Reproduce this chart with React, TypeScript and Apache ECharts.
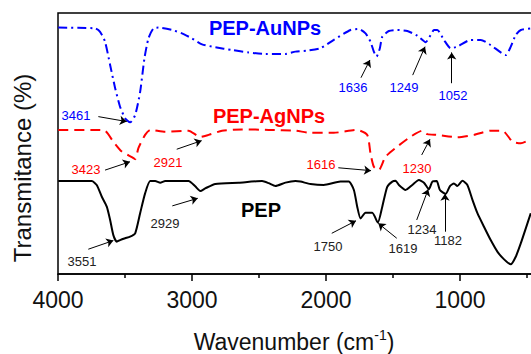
import React, { useEffect, useRef } from "react";
import * as echarts from "echarts";

// Wavenumber (cm-1) and transmittance (arbitrary, offset) readings
const auWn = [3998,3723,3686,3649,3611,3574,3537,3499,3462,3424,3387,3355,3325,3288,3250,3150,3075,3001,2925,2826,2701,2577,2453,2303,2228,2141,2041,1942,1817,1755,1705,1668,1643,1623,1598,1580,1531,1468,1393,1319,1256,1219,1194,1169,1120,1070,1020,920,845,771,658,621,584,546,472];
const auT = [94.4,94.1,92.8,89.0,80.1,71.3,64.1,59.7,58.1,60.9,69.8,82.6,90.3,94.1,94.4,93.5,92.2,90.3,88.0,86.9,85.8,84.9,84.3,84.3,85.2,85.6,86.5,89.7,93.5,93.9,92.2,89.0,85.2,83.3,86.5,90.9,93.1,93.5,93.1,91.3,88.8,91.6,93.5,93.5,89.7,86.5,87.1,89.7,89.7,87.7,83.9,87.1,91.6,93.5,94.1];

const agWn = [3998,3723,3649,3587,3524,3449,3424,3400,3350,3312,3200,3026,2938,2876,2776,2627,2428,2228,2116,1942,1767,1692,1668,1643,1606,1556,1468,1369,1281,1244,1169,1020,895,771,683,608,546,472];
const agT = [55.2,55.2,54.9,50.7,46.9,44.8,44.0,48.2,53.3,55.2,54.5,54.9,52.5,53.3,54.9,55.4,55.2,54.9,54.1,54.1,55.2,53.3,46.2,41.1,39.8,44.9,48.8,52.6,54.9,53.6,53.3,52.4,53.3,54.9,54.9,50.7,50.1,51.6];

const pepWn = [3998,3748,3711,3673,3636,3611,3587,3561,3537,3499,3462,3424,3387,3350,3312,3275,3237,3200,3026,2976,2938,2901,2826,2652,2477,2428,2378,2303,2228,2191,2116,2017,1892,1830,1792,1767,1742,1705,1655,1613,1580,1543,1505,1481,1456,1406,1356,1307,1269,1232,1206,1174,1150,1107,1075,1045,1020,982,945,907,870,821,771,720,671,621,584,546,509,472];
const pepT = [35.6,35.6,34.1,29.6,25.8,20.7,14.9,12.4,13.0,13.7,14.3,15.6,23.3,30.9,35.6,35.6,35.0,35.6,35.6,33.6,31.8,32.8,34.5,35.0,35.6,34.8,33.7,35.0,35.6,35.4,34.5,34.1,35.4,35.4,32.2,25.8,21.3,23.5,23.5,19.7,25.8,33.4,35.4,35.7,34.1,32.2,34.1,36.0,35.0,32.5,35.4,35.6,32.2,30.7,33.7,34.7,33.7,35.7,34.1,28.4,23.3,18.1,13.0,8.5,5.6,3.7,6.6,11.8,17.5,23.3];

const xTicks = [4000, 3000, 2000, 1000];

// Peak annotations: [label, label anchor (wn, T), arrow start (wn, T), arrow tip (wn, T)]
const auPeaks: [string, number[], number[], number[]][] = [
  ["3461", [3866, 60.9], [3699, 60.3], [3487, 58.4]],
  ["1636", [1799, 71.3], [1739, 75.2], [1672, 82.0]],
  ["1249", [1418, 71.3], [1353, 76.2], [1261, 87.1]],
  ["1052", [1052, 68.2], [1062, 73.1], [1062, 84.9]],
];
const agPeaks: [string, number[], number[], number[]][] = [
  ["3423", [3791, 40.2], [3649, 39.8], [3463, 43.0]],
  ["2921", [3179, 42.9], [3114, 47.8], [2928, 51.1]],
  ["1616", [2037, 42.1], [1908, 40.7], [1664, 39.6]],
  ["1230", [1321, 40.6], [1286, 45.6], [1224, 51.6]],
];
const pepPeaks: [string, number[], number[], number[]][] = [
  ["3551", [3821, 4.6], [3774, 9.5], [3587, 12.8]],
  ["2929", [3201, 19.2], [3147, 26.1], [2957, 29.0]],
  ["1750", [1985, 10.7], [1957, 15.6], [1776, 20.4]],
  ["1619", [1425, 9.6], [1472, 13.7], [1610, 19.4]],
  ["1234", [1284, 17.2], [1323, 20.7], [1237, 32.5]],
  ["1182", [1090, 13.0], [1112, 16.2], [1112, 30.7]],
];

const seriesNames = ["PEP-AuNPs", "PEP-AgNPs", "PEP"];
const titlePos = [[2455, 94.3], [2425, 60.5], [2485, 24.7]];

const FONT = 'Arial, "Liberation Sans", sans-serif';

function zip(xs: number[], ys: number[]) {
  return xs.map((x, i) => [x, ys[i]]);
}

function makeSeries(
  name: string,
  xs: number[],
  ys: number[],
  color: string,
  dash: number[] | "solid",
  peaks: [string, number[], number[], number[]][],
  labelColor: string,
  title: number[]
) {
  return {
    name,
    type: "line",
    data: zip(xs, ys),
    showSymbol: false,
    smooth: 0.2,
    lineStyle: { color, width: 2, type: dash },
    markLine: {
      silent: true,
      symbol: ["none", "arrow"],
      symbolSize: 7,
      label: { show: false },
      lineStyle: { color: "#000", width: 1, type: "solid" },
      data: peaks.map((p) => [{ coord: p[2] }, { coord: p[3] }]),
    },
    markPoint: {
      silent: true,
      symbol: "circle",
      symbolSize: 1,
      itemStyle: { color: "transparent" },
      data: [
        ...peaks.map((p) => ({
          coord: p[1],
          value: p[0],
          label: {
            show: true,
            position: "inside",
            formatter: p[0],
            fontSize: 13,
            fontFamily: FONT,
            color: labelColor,
          },
        })),
        {
          coord: title,
          value: name,
          label: {
            show: true,
            position: "inside",
            formatter: name,
            fontSize: 20,
            fontWeight: "bold",
            fontFamily: FONT,
            color: color,
          },
        },
      ],
    },
  };
}

export default function App() {
  const ref = useRef<HTMLDivElement>(null);
  useEffect(() => {
    if (!ref.current) return;
    const chart = echarts.init(ref.current, null, { renderer: "svg" });
    chart.setOption({
      animation: false,
      backgroundColor: "#fff",
      grid: {
        left: 58,
        top: 13,
        bottom: 80,
        right: -63,
        outerBoundsMode: "none",
        containLabel: false,
        show: true,
        borderColor: "#000",
        borderWidth: 1.5,
      },
      xAxis: {
        type: "value",
        inverse: true,
        min: 0,
        max: 4000,
        interval: 1000,
        axisLine: { show: true, lineStyle: { color: "#000", width: 1.5 } },
        axisTick: { show: true, inside: false, length: 7, lineStyle: { color: "#000", width: 1.5 } },
        minorTick: { show: true, splitNumber: 2, length: 4, lineStyle: { color: "#000", width: 1.5 } },
        splitLine: { show: false },
        axisLabel: {
          fontSize: 23,
          fontFamily: FONT,
          color: "#111",
          margin: 14,
          formatter: (v: number) => (xTicks.includes(v) ? String(v) : ""),
        },
      },
      yAxis: {
        type: "value",
        min: 0,
        max: 100,
        axisLine: { show: true, lineStyle: { color: "#000", width: 1.5 } },
        axisTick: { show: false },
        axisLabel: { show: false },
        splitLine: { show: false },
      },
      graphic: [
        {
          type: "text",
          x: 22,
          y: 168,
          rotation: Math.PI / 2,
          style: {
            text: "Transmitance (%)",
            fontSize: 24,
            fontFamily: FONT,
            fill: "#111",
            align: "center",
            verticalAlign: "middle",
          },
        },
        {
          type: "text",
          x: 294,
          y: 342,
          style: {
            text: "Wavenumber (cm{sup|-1})",
            fontSize: 23,
            fontFamily: FONT,
            fill: "#111",
            align: "center",
            verticalAlign: "middle",
            rich: {
              sup: { fontSize: 14, fontFamily: FONT, fill: "#111", verticalAlign: "top", lineHeight: 28, padding: [0, 0, 10, 0] },
            },
          },
        },
      ],
      series: [
        makeSeries(seriesNames[0], auWn, auT, "#0000ff", [9, 4, 2, 4], auPeaks, "#0000ff", titlePos[0]),
        makeSeries(seriesNames[1], agWn, agT, "#ff0000", [10, 6], agPeaks, "#ff0000", titlePos[1]),
        makeSeries(seriesNames[2], pepWn, pepT, "#000000", "solid", pepPeaks, "#222", titlePos[2]),
      ],
    });
    return () => chart.dispose();
  }, []);
  return (
    <div
      ref={ref}
      style={{ position: "fixed", left: 0, top: 0, width: 531, height: 354, overflow: "hidden" }}
    />
  );
}
